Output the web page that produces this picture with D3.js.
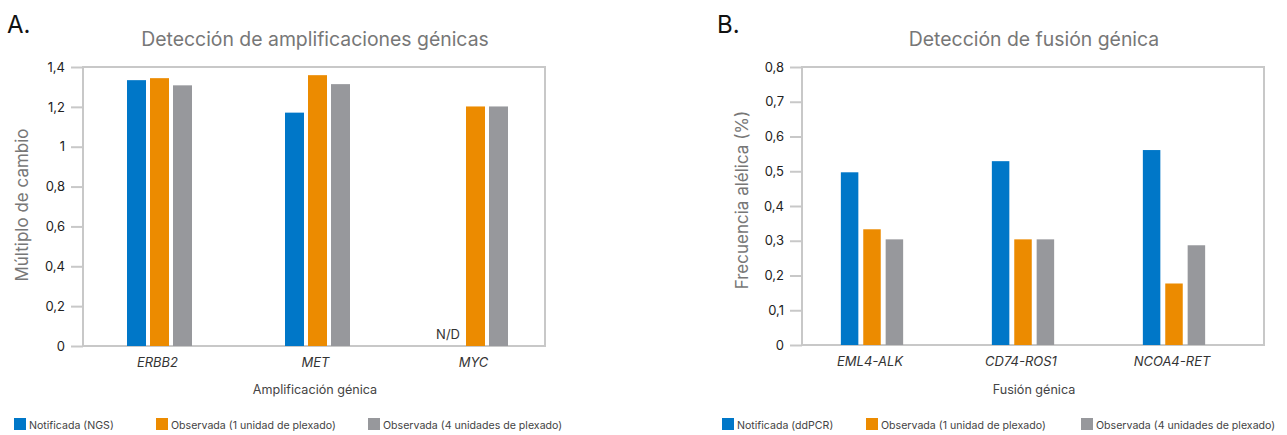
<!DOCTYPE html>
<html>
<head>
<meta charset="utf-8">
<script src="https://cdn.jsdelivr.net/npm/d3@7"></script>
<style>
  body { margin: 0; background: #fff; }
  svg { display: block; font-family: Inter, "Noto Sans", sans-serif; }
</style>
</head>
<body>
<svg id="chart" width="1287" height="435"></svg>
<script>
// Panel A - amplificaciones
var genesA = ["ERBB2", "MET", "MYC"];
var ngsA = [1.334, 1.171, null];
var plex1A = [1.344, 1.359, 1.202];
var plex4A = [1.308, 1.314, 1.202];
var ticksA = [0, 0.2, 0.4, 0.6, 0.8, 1, 1.2, 1.4];
var tickLabelsA = ["0", "0,2", "0,4", "0,6", "0,8", "1", "1,2", "1,4"];
var seriesA = ["Notificada (NGS)", "Observada (1 unidad de plexado)", "Observada (4 unidades de plexado)"];

// Panel B - fusiones
var fusionsB = ["EML4-ALK", "CD74-ROS1", "NCOA4-RET"];
var ddpcrB = [0.497, 0.529, 0.561];
var plex1B = [0.333, 0.304, 0.177];
var plex4B = [0.304, 0.304, 0.287];
var ticksB = [0, 0.1, 0.2, 0.3, 0.4, 0.5, 0.6, 0.7, 0.8];
var tickLabelsB = ["0", "0,1", "0,2", "0,3", "0,4", "0,5", "0,6", "0,7", "0,8"];
var seriesB = ["Notificada (ddPCR)", "Observada (1 unidad de plexado)", "Observada (4 unidades de plexado)"];

var colors = ["#0077c8", "#ec8b00", "#97989c"];

var svg = d3.select("#chart");

function drawPanel(cfg) {
    var x = d3.scaleBand()
        .domain(cfg.cats)
        .range(cfg.xRange);

    var inner = d3.scaleBand()
        .domain(d3.range(3))
        .range([-cfg.groupWidth / 2, cfg.groupWidth / 2])
        .paddingInner(cfg.innerPad);

    var y = d3.scaleLinear()
        .domain([0, cfg.ticks[cfg.ticks.length - 1]])
        .range([cfg.bottom, cfg.top]);

    var g = svg.append("g");

    // panel letter
    g.append("text")
        .attr("x", cfg.letterX)
        .attr("y", 33)
        .style("font-size", "24px")
        .style("fill", "#111")
        .text(cfg.letter);

    // title
    g.append("text")
        .attr("x", (cfg.left + cfg.right) / 2 + 1)
        .attr("y", 46)
        .attr("text-anchor", "middle")
        .style("font-size", "19.4px")
        .style("fill", "#777")
        .text(cfg.title);

    // frame
    g.append("rect")
        .attr("x", cfg.left)
        .attr("y", cfg.top)
        .attr("width", cfg.right - cfg.left)
        .attr("height", cfg.bottom - cfg.top)
        .attr("fill", "none")
        .attr("stroke", "#c8c8c8")
        .attr("stroke-width", 2);

    // y axis
    var yAxis = d3.axisLeft(y)
        .tickValues(cfg.ticks)
        .tickSize(12)
        .tickPadding(6)
        .tickFormat(function(d, i) { return cfg.tickLabels[i]; });

    var ya = g.append("g")
        .attr("transform", "translate(" + cfg.left + ",0)")
        .call(yAxis);
    ya.select(".domain").remove();
    ya.selectAll(".tick line").attr("stroke", "#c8c8c8").attr("stroke-width", 2);
    ya.selectAll(".tick text")
        .style("font-size", "13px")
        .style("fill", "#222")
        .style("font-family", "Inter, sans-serif");

    // y title
    g.append("text")
        .attr("transform", "translate(" + cfg.yTitleX + "," + cfg.yTitleY + ") rotate(-90)")
        .attr("text-anchor", "middle")
        .style("font-size", "17px")
        .style("fill", "#777")
        .text(cfg.yTitle);

    // bars
    var rows = [];
    cfg.values.forEach(function(vals, s) {
        vals.forEach(function(v, i) {
            rows.push({cat: cfg.cats[i], s: s, v: v});
        });
    });

    g.selectAll("rect.bar")
        .data(rows.filter(function(d) { return d.v != null; }))
        .enter().append("rect")
        .attr("class", "bar")
        .attr("x", function(d) { return x(d.cat) + x.bandwidth() / 2 + inner(d.s); })
        .attr("y", function(d) { return y(d.v); })
        .attr("width", inner.bandwidth())
        .attr("height", function(d) { return y(0) - y(d.v); })
        .attr("fill", function(d) { return colors[d.s]; });

    // N/D labels for missing values
    g.selectAll("text.nd")
        .data(rows.filter(function(d) { return d.v == null; }))
        .enter().append("text")
        .attr("class", "nd")
        .attr("x", function(d) { return x(d.cat) + x.bandwidth() / 2 + inner(d.s) + inner.bandwidth() - 2; })
        .attr("y", y(0) - 7)
        .attr("text-anchor", "end")
        .style("font-size", "13px")
        .style("fill", "#333")
        .text("N/D");

    // category labels
    g.selectAll("text.cat")
        .data(cfg.cats)
        .enter().append("text")
        .attr("class", "cat")
        .attr("x", function(d) { return x(d) + x.bandwidth() / 2 - 2; })
        .attr("y", cfg.bottom + 21)
        .attr("text-anchor", "middle")
        .style("font-size", "13px")
        .style("font-style", "italic")
        .style("fill", "#333")
        .text(function(d) { return d; });

    // x title
    g.append("text")
        .attr("x", (cfg.left + cfg.right) / 2 + 1)
        .attr("y", 394)
        .attr("text-anchor", "middle")
        .style("font-size", "12.6px")
        .style("fill", "#444")
        .text(cfg.xTitle);

    // legend
    var leg = g.selectAll("g.leg")
        .data(cfg.series)
        .enter().append("g")
        .attr("class", "leg")
        .attr("transform", function(d, i) { return "translate(" + cfg.legendX[i] + ",418)"; });

    leg.append("rect")
        .attr("width", 12)
        .attr("height", 12)
        .attr("fill", function(d, i) { return colors[i]; });

    leg.append("text")
        .attr("x", 15)
        .attr("y", 10.5)
        .style("font-size", "10.6px")
        .style("fill", "#444")
        .text(function(d) { return d; });
}

drawPanel({
    letter: "A.", letterX: 7,
    title: "Detección de amplificaciones génicas",
    cats: genesA,
    values: [ngsA, plex1A, plex4A],
    series: seriesA,
    ticks: ticksA, tickLabels: tickLabelsA,
    left: 83, right: 545, top: 67, bottom: 346,
    xRange: [80.5, 554.5],
    groupWidth: 65, innerPad: 0.174,
    yTitle: "Múltiplo de cambio", yTitleX: 28, yTitleY: 205,
    xTitle: "Amplificación génica",
    legendX: [14, 156, 368]
});

drawPanel({
    letter: "B.", letterX: 717,
    title: "Detección de fusión génica",
    cats: fusionsB,
    values: [ddpcrB, plex1B, plex4B],
    series: seriesB,
    ticks: ticksB, tickLabels: tickLabelsB,
    left: 802, right: 1264, top: 67, bottom: 345,
    xRange: [796.5, 1249.5],
    groupWidth: 62.3, innerPad: 0.219,
    yTitle: "Frecuencia alélica (%)", yTitleX: 748, yTitleY: 200,
    xTitle: "Fusión génica",
    legendX: [722, 866, 1081]
});
</script>
</body>
</html>
